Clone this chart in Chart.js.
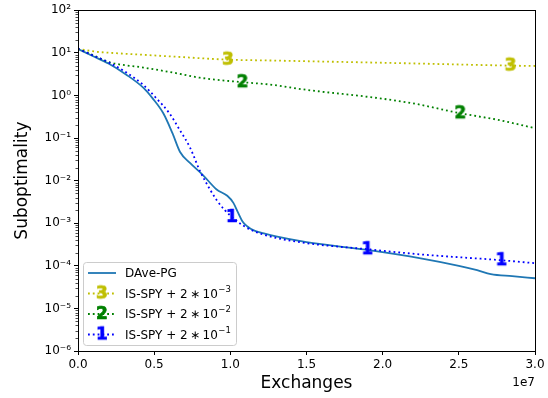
<!DOCTYPE html>
<html>
<head>
<meta charset="utf-8">
<title>Suboptimality vs exchanges</title>
<style>
  body { margin: 0; background: #fff; }
  canvas { display: block; }
</style>
<script src="https://cdn.jsdelivr.net/npm/chart.js@4.4.1/dist/chart.umd.min.js"></script>
</head>
<body>
<canvas id="chart" width="548" height="398"></canvas>
<script>
// x values are in units of 1e7 exchanges (axis offset label "1e7")
const daveX = [0, 0.1, 0.2, 0.315, 0.43, 0.49, 0.56, 0.62, 0.67, 0.735, 0.82, 0.91, 0.98, 1.02, 1.05, 1.08, 1.11, 1.15, 1.22, 1.3, 1.5, 1.92, 2.25, 2.5, 2.62, 2.71, 2.85, 3.0];
const daveY = [12.3, 8.3, 5.6, 3.1, 1.5, 0.85, 0.38, 0.13, 0.047, 0.026, 0.0135, 0.0062, 0.0044, 0.003, 0.0018, 0.0011, 8.5e-4, 6.9e-4, 5.8e-4, 4.9e-4, 3.6e-4, 2.3e-4, 1.5e-4, 1.0e-4, 7.9e-5, 6.4e-5, 5.7e-5, 5.1e-5];

const yellowX = [0, 0.12, 0.21, 0.47, 0.64, 0.985, 1.26, 2.13, 2.84, 3.0];
const yellowY = [12.3, 10.6, 10.0, 8.8, 8.1, 6.9, 6.6, 5.7, 5.0, 4.9];
const yellowMarks = [5, 8];

const greenX = [0, 0.1, 0.2, 0.43, 0.63, 0.8, 1.08, 1.26, 1.5, 1.92, 2.2, 2.51, 2.75, 3.0];
const greenY = [12.4, 8.8, 6.1, 4.5, 3.4, 2.6, 2.04, 1.8, 1.35, 0.91, 0.65, 0.38, 0.27, 0.17];
const greenMarks = [6, 11];

const blueX = [0, 0.1, 0.2, 0.315, 0.43, 0.51, 0.6, 0.67, 0.735, 0.8, 0.87, 0.91, 0.965, 1.01, 1.08, 1.15, 1.26, 1.5, 1.9, 2.25, 2.78, 3.0];
const blueY = [12.5, 8.6, 6.0, 3.5, 1.74, 0.89, 0.38, 0.15, 0.06, 0.017, 0.0059, 0.0035, 0.002, 0.0014, 9e-4, 6.6e-4, 4.9e-4, 3.4e-4, 2.45e-4, 1.85e-4, 1.35e-4, 1.15e-4];
const blueMarks = [13, 18, 20];

const xTicks = [0, 0.5, 1.0, 1.5, 2.0, 2.5, 3.0];
const yTicks = [1e-6, 1e-5, 1e-4, 1e-3, 1e-2, 1e-1, 1e0, 1e1, 1e2];
const xOffsetLabel = '1e7';

const legendItems = [
  { base: 'DAve-PG', exp: null, color: '#1f77b4', dash: [], digit: null },
  { base: 'IS-SPY + 2\u2009\u2217\u200910', exp: '\u22123', color: '#bfbf00', dash: [1.8, 3], digit: '3' },
  { base: 'IS-SPY + 2\u2009\u2217\u200910', exp: '\u22122', color: '#008000', dash: [1.8, 3], digit: '2' },
  { base: 'IS-SPY + 2\u2009\u2217\u200910', exp: '\u22121', color: '#0000ff', dash: [1.8, 3], digit: '1' }
];

const FONT = '"DejaVu Sans", sans-serif';
Chart.defaults.font.family = FONT;
Chart.defaults.color = '#000';

const SUP = { '-': '\u207b', '0': '\u2070', '1': '\u00b9', '2': '\u00b2', '3': '\u00b3', '4': '\u2074', '5': '\u2075', '6': '\u2076', '7': '\u2077', '8': '\u2078', '9': '\u2079' };
function powLabel(v) {
  const e = String(Math.round(Math.log10(v)));
  return '10' + e.split('').map(c => SUP[c]).join('');
}

function digitMarker(d, color) {
  const c = document.createElement('canvas');
  c.width = 16; c.height = 20;
  const g = c.getContext('2d');
  g.font = 'bold 17px ' + FONT;
  g.textAlign = 'center';
  g.textBaseline = 'middle';
  g.fillStyle = color;
  g.strokeStyle = color;
  g.lineWidth = 0.7;
  g.fillText(d, 8, 11);
  g.strokeText(d, 8, 11);
  return c;
}

function pts(xs, ys) { return xs.map((x, i) => ({ x: x, y: ys[i] })); }

function dotted(label, xs, ys, marks, color, digit, order) {
  const img = digitMarker(digit, color);
  return {
    label: label,
    data: pts(xs, ys),
    borderColor: color,
    backgroundColor: color,
    borderWidth: 1.8,
    borderDash: [1.8, 3],
    borderCapStyle: 'butt',
    cubicInterpolationMode: 'monotone',
    pointRadius: c => marks.includes(c.dataIndex) ? 5 : 0,
    pointStyle: c => marks.includes(c.dataIndex) ? img : 'circle',
    pointHoverRadius: 0,
    order: order
  };
}

const boxPlugin = {
  id: 'box',
  afterDraw(chart) {
    const { ctx, chartArea: a, scales } = chart;
    const ys = scales.y;
    ctx.save();
    ctx.strokeStyle = '#000';
    ctx.lineWidth = 1;
    // minor log ticks
    ctx.lineWidth = 0.7;
    for (let d = -6; d < 2; d++) {
      for (let m = 2; m <= 9; m++) {
        const py = Math.round(ys.getPixelForValue(m * Math.pow(10, d))) + 0.5;
        ctx.beginPath();
        ctx.moveTo(a.left - 2.5, py);
        ctx.lineTo(a.left, py);
        ctx.stroke();
      }
    }
    ctx.lineWidth = 1;
    ctx.strokeRect(Math.round(a.left) + 0.5, Math.round(a.top) + 0.5,
      Math.round(a.right - a.left), Math.round(a.bottom - a.top));
    // x offset text
    ctx.fillStyle = '#000';
    ctx.font = '12px ' + FONT;
    ctx.textAlign = 'right';
    ctx.textBaseline = 'middle';
    ctx.fillText(xOffsetLabel, a.right, 383);

    // legend
    const lx = 83.5, ly = 262.5, lw = 153, lh = 83, r = 3;
    ctx.beginPath();
    ctx.moveTo(lx + r, ly);
    ctx.arcTo(lx + lw, ly, lx + lw, ly + lh, r);
    ctx.arcTo(lx + lw, ly + lh, lx, ly + lh, r);
    ctx.arcTo(lx, ly + lh, lx, ly, r);
    ctx.arcTo(lx, ly, lx + lw, ly, r);
    ctx.closePath();
    ctx.fillStyle = 'rgba(255,255,255,0.8)';
    ctx.fill();
    ctx.strokeStyle = '#cccccc';
    ctx.lineWidth = 1;
    ctx.stroke();

    legendItems.forEach((it, i) => {
      const y = 273 + i * 20.5;
      ctx.strokeStyle = it.color;
      ctx.lineWidth = 1.8;
      ctx.lineCap = 'butt';
      ctx.setLineDash(it.dash);
      ctx.beginPath();
      ctx.moveTo(88, y);
      ctx.lineTo(116, y);
      ctx.stroke();
      ctx.setLineDash([]);
      if (it.digit) {
        const img = digitMarker(it.digit, it.color);
        ctx.drawImage(img, 102 - img.width / 2, y - img.height / 2);
      }
      ctx.fillStyle = '#000';
      ctx.textAlign = 'left';
      ctx.textBaseline = 'middle';
      ctx.font = '12px ' + FONT;
      ctx.fillText(it.base, 125, y + 1);
      if (it.exp) {
        const w = ctx.measureText(it.base).width;
        ctx.font = '8.5px ' + FONT;
        ctx.fillText(it.exp, 125 + w + 0.5, y - 4);
      }
    });
    ctx.restore();
  }
};

new Chart(document.getElementById('chart'), {
  type: 'line',
  data: {
    datasets: [
      {
        label: 'DAve-PG',
        data: pts(daveX, daveY),
        borderColor: '#1f77b4',
        backgroundColor: '#1f77b4',
        borderWidth: 1.8,
        cubicInterpolationMode: 'monotone',
        pointRadius: 0,
        pointHoverRadius: 0,
        order: 4
      },
      dotted('IS-SPY + 2*10^-3', yellowX, yellowY, yellowMarks, '#bfbf00', '3', 3),
      dotted('IS-SPY + 2*10^-2', greenX, greenY, greenMarks, '#008000', '2', 2),
      dotted('IS-SPY + 2*10^-1', blueX, blueY, blueMarks, '#0000ff', '1', 1)
    ]
  },
  options: {
    responsive: false,
    animation: false,
    devicePixelRatio: 1,
    layout: { padding: { top: 10, right: 13, left: 0, bottom: 0 } },
    plugins: {
      legend: { display: false },
      tooltip: { enabled: false }
    },
    events: [],
    scales: {
      x: {
        type: 'linear',
        min: 0,
        max: 3,
        afterFit: s => { s.height = 47; },
        afterBuildTicks: s => { s.ticks = xTicks.map(v => ({ value: v })); },
        ticks: {
          color: '#000',
          font: { size: 12 },
          padding: 3,
          maxRotation: 0,
          autoSkip: false,
          callback: v => Number(v).toFixed(1)
        },
        grid: { drawOnChartArea: false, drawTicks: true, tickLength: 4, color: '#000', lineWidth: 1 },
        border: { display: false },
        title: {
          display: true,
          text: 'Exchanges',
          color: '#000',
          font: { size: 17, lineHeight: 1.2 },
          padding: { top: 0, bottom: 4 }
        }
      },
      y: {
        type: 'logarithmic',
        min: 1e-6,
        max: 1e2,
        afterFit: s => { s.width = 78; },
        afterBuildTicks: s => { s.ticks = yTicks.map(v => ({ value: v })); },
        ticks: {
          color: '#000',
          font: { size: 12 },
          padding: 3,
          autoSkip: false,
          callback: v => powLabel(v)
        },
        grid: { drawOnChartArea: false, drawTicks: true, tickLength: 4, color: '#000', lineWidth: 1 },
        border: { display: false },
        title: {
          display: true,
          text: 'Suboptimality',
          color: '#000',
          font: { size: 17, lineHeight: 1.2 },
          padding: { top: 12, bottom: 0 }
        }
      }
    }
  },
  plugins: [boxPlugin]
});
</script>
</body>
</html>
